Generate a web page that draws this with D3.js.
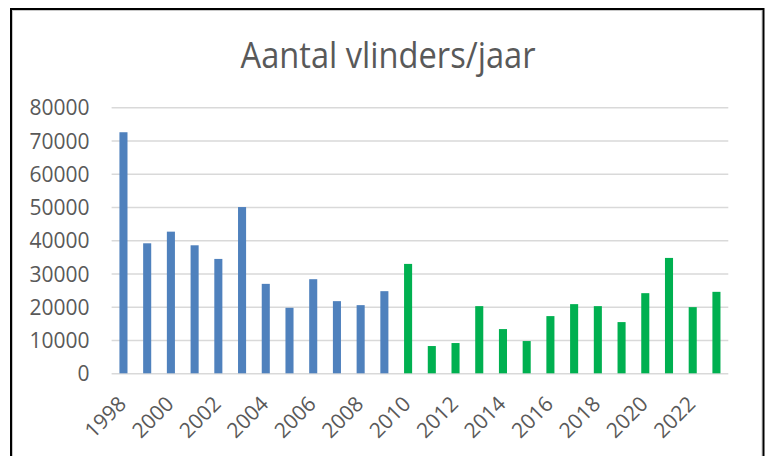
<!DOCTYPE html>
<html>
<head>
<meta charset="utf-8">
<script src="https://cdn.jsdelivr.net/npm/d3@7"></script>
<style>
  html, body { margin: 0; padding: 0; background: #fff; }
  svg { display: block; }
  text { font-family: "Open Sans", "Liberation Sans", sans-serif; fill: #595959; }
</style>
</head>
<body>
<svg id="chart" width="766" height="456"></svg>
<script>
const title = "Aantal vlinders/jaar";
const years = ["1998","1999","2000","2001","2002","2003","2004","2005","2006","2007","2008","2009","2010","2011","2012","2013","2014","2015","2016","2017","2018","2019","2020","2021","2022","2023"];
const values = [72500, 39100, 42600, 38500, 34400, 50000, 26900, 19700, 28300, 21700, 20500, 24700, 32900, 8200, 9100, 20200, 13300, 9700, 17200, 20800, 20200, 15400, 24100, 34700, 19900, 24500];
const period = ["old","old","old","old","old","old","old","old","old","old","old","old","new","new","new","new","new","new","new","new","new","new","new","new","new","new"];
const yTicks = [0, 10000, 20000, 30000, 40000, 50000, 60000, 70000, 80000];
const xTickLabels = ["1998","2000","2002","2004","2006","2008","2010","2012","2014","2016","2018","2020","2022"];

const colors = { old: "#4F81BD", new: "#00B050" };

const svg = d3.select("#chart");

// frame
svg.append("rect").attr("x", 12.5).attr("y", 10.5).attr("width", 749.5).attr("height", 470)
  .attr("fill", "none").attr("stroke", "#c8c8c8").attr("stroke-width", 1);
svg.append("rect").attr("x", 11).attr("y", 9).attr("width", 752.5).attr("height", 470)
  .attr("fill", "none").attr("stroke", "#000").attr("stroke-width", 2);

const x = d3.scaleBand().domain(years).range([111.6, 728.3]).paddingInner(0.66).paddingOuter(0.33);
const y = d3.scaleLinear().domain([0, 80000]).range([373.3, 107.3]);

// title
svg.append("text").attr("x", 388).attr("y", 68)
  .attr("text-anchor", "middle")
  .attr("font-size", 37)
  .attr("textLength", 295).attr("lengthAdjust", "spacingAndGlyphs")
  .text(title);

// y axis with gridlines
const yAxis = svg.append("g").attr("transform", "translate(111.6,0)")
  .call(d3.axisLeft(y).tickValues(yTicks).tickSize(-(728.3 - 111.6)).tickPadding(22).tickFormat(d3.format("d")));
yAxis.select(".domain").remove();
yAxis.selectAll(".tick line").attr("stroke", "#d9d9d9").attr("stroke-width", 1.5);
yAxis.selectAll(".tick text").attr("font-size", 21).attr("fill", "#595959")
  .attr("font-family", "'Open Sans', sans-serif").attr("dy", "0.36em");

// bars
svg.append("g").selectAll("rect").data(years).join("rect")
  .attr("x", (d) => x(d))
  .attr("width", x.bandwidth())
  .attr("y", (d, i) => y(values[i]))
  .attr("height", (d, i) => y(0) - y(values[i]))
  .attr("fill", (d, i) => colors[period[i]]);

// x axis
const xAxis = svg.append("g").attr("transform", "translate(0,373.3)")
  .call(d3.axisBottom(x).tickValues(xTickLabels).tickSize(0).tickPadding(0));
xAxis.select(".domain").remove();
xAxis.selectAll(".tick text")
  .attr("font-size", 21).attr("fill", "#595959")
  .attr("font-family", "'Open Sans', sans-serif")
  .attr("text-anchor", "end")
  .attr("dy", 0).attr("y", 0)
  .attr("transform", "translate(4,32) rotate(-45)");
</script>
</body>
</html>
